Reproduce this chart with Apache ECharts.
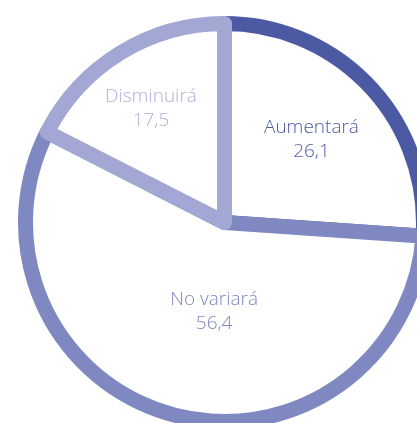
<!DOCTYPE html>
<html>
<head>
<meta charset="utf-8">
<style>
  html, body { margin: 0; padding: 0; background: #ffffff; }
  #chart { width: 417px; height: 423px; }
</style>
<script src="https://cdn.jsdelivr.net/npm/echarts@6/dist/echarts.min.js"></script>
</head>
<body>
<div id="chart"></div>
<script>
// Expectation shares (%)
const categories = ['Aumentará', 'No variará', 'Disminuirá'];
const values = [26.1, 56.4, 17.5];
const valueLabels = ['26,1', '56,4', '17,5'];

const lineColors = ['#4c5aa4', '#7f88c0', '#a2a7d3'];
const textColors = ['#4c5aa4', '#7f88c0', '#adb1da'];
// small nudges so each label sits where it reads best inside its slice
const labelShift = [[12, -13], [17, -10], [-20, -27]];

const chart = echarts.init(document.getElementById('chart'), null, { renderer: 'canvas' });

chart.setOption({
  animation: false,
  series: [{
    type: 'pie',
    center: [224.5, 222.5],
    radius: [0, 199],
    startAngle: 90,
    clockwise: true,
    silent: true,
    emphasis: { disabled: true },
    data: categories.map((name, i) => ({
      name: name,
      value: values[i],
      itemStyle: {
        color: '#ffffff',
        borderColor: lineColors[i],
        borderWidth: 15,
        borderJoin: 'round'
      },
      label: {
        color: textColors[i]
      }
    })),
    label: {
      show: true,
      position: 'inside',
      fontFamily: 'Open Sans',
      fontWeight: 300,
      fontSize: 19,
      lineHeight: 24,
      align: 'center',
      formatter: p => p.name + '\n' + valueLabels[p.dataIndex]
    },
    labelLine: { show: false }
  }]
});

chart.setOption({
  series: [{
    labelLayout: function (params) {
      const s = labelShift[params.dataIndex];
      return { dx: s[0], dy: s[1] };
    }
  }]
});
</script>
</body>
</html>
